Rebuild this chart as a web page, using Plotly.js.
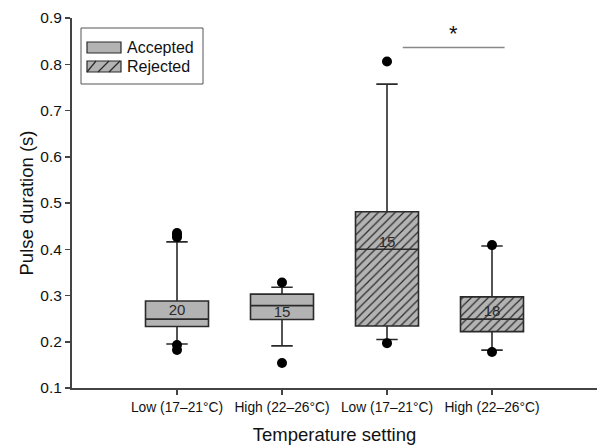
<!DOCTYPE html>
<html>
<head>
<meta charset="utf-8">
<script src="https://cdn.plot.ly/plotly-3.0.1.min.js"></script>
<style>html,body{margin:0;padding:0;background:#fff;}#chart{width:597px;height:448px;}</style>
</head>
<body>
<div id="chart"></div>
<script>
// ---- data ----
const categories = ["Low (17\u201321\u00b0C)", "High (22\u201326\u00b0C)", "Low (17\u201321\u00b0C)", "High (22\u201326\u00b0C)"];
const groups = ["Accepted", "Accepted", "Rejected", "Rejected"];
const q1 = [0.233, 0.248, 0.234, 0.222];
const median = [0.249, 0.278, 0.400, 0.249];
const q3 = [0.288, 0.303, 0.481, 0.297];
const lowerWhisker = [0.195, 0.191, 0.205, 0.182];
const upperWhisker = [0.416, 0.318, 0.757, 0.407];
const outlierX = [0, 0, 0, 0, 0, 1, 1, 2, 2, 3, 3];
const outlierY = [0.435, 0.430, 0.426, 0.193, 0.182, 0.328, 0.154, 0.806, 0.197, 0.409, 0.178];
const sampleSize = [20, 15, 15, 18];
const sampleLabelY = [0.266, 0.262, 0.414, 0.263];
const sigPair = [2, 3];
const sigY = 0.836;

// ---- styles ----
const GREY = "#b3b3b3";
const DARK = "#2a2a2a";
const AXIS = "#444444";
const FONT = "'Liberation Sans', Arial, sans-serif";

const xs = categories.map((_, i) => i);
function pick(arr, g) { return arr.filter((_, i) => groups[i] === g); }
function pickX(g) { return xs.filter((_, i) => groups[i] === g); }

const traces = [];
["Accepted", "Rejected"].forEach(g => {
  const bq1 = pick(q1, g), bq3 = pick(q3, g);
  traces.push({
    type: "bar", x: pickX(g), base: bq1, y: bq3.map((v, i) => v - bq1[i]),
    width: 0.6, showlegend: false, hoverinfo: "skip",
    marker: g === "Rejected"
      ? {color: GREY, line: {width: 0}, pattern: {shape: "/", size: 6, solidity: 0.2, fgcolor: DARK, bgcolor: GREY, fillmode: "replace"}}
      : {color: GREY, line: {width: 0}}
  });
});
["Accepted", "Rejected"].forEach(g => {
  traces.push({
    type: "box", x: pickX(g), q1: pick(q1, g), median: pick(median, g), q3: pick(q3, g),
    lowerfence: pick(lowerWhisker, g), upperfence: pick(upperWhisker, g),
    width: 0.6, whiskerwidth: 0.34, boxpoints: false, showlegend: false,
    fillcolor: "rgba(0,0,0,0)", line: {color: DARK, width: 1.6}
  });
});
traces.push({
  type: "scatter", mode: "markers", x: outlierX, y: outlierY, showlegend: false,
  marker: {color: "#000", size: 10}, cliponaxis: false
});
traces.push({
  type: "scatter", mode: "text", x: xs, y: sampleLabelY, text: sampleSize.map(String),
  textfont: {family: FONT, size: 15, color: DARK}, showlegend: false, hoverinfo: "skip"
});

// legend (drawn in pixel positions)
const W = 597, H = 448, ML = 72, MR = 0, MT = 18, MB = 60;
const px = x => (x - ML) / (W - ML - MR);
const py = y => (H - MB - y) / (H - MT - MB);
const shapes = [
  {type: "line", xref: "x", yref: "y", x0: sigPair[0] + 0.15, x1: sigPair[1] + 0.12, y0: sigY, y1: sigY, line: {color: "#888", width: 1.5}},
  {type: "rect", xref: "paper", yref: "paper", x0: px(81), x1: px(203), y0: py(84), y1: py(28), line: {color: "#555", width: 1}, fillcolor: "#fff"},
  {type: "rect", xref: "paper", yref: "paper", x0: px(87), x1: px(121), y0: py(53), y1: py(42), line: {color: DARK, width: 1.2}, fillcolor: GREY},
  {type: "rect", xref: "paper", yref: "paper", x0: px(87), x1: px(121), y0: py(72), y1: py(61), line: {color: DARK, width: 1.2}, fillcolor: GREY}
];
[[87, 96], [98, 109], [109, 120]].forEach(([a, b]) => {
  shapes.push({type: "line", xref: "paper", yref: "paper", x0: px(a), x1: px(b), y0: py(72), y1: py(61), line: {color: DARK, width: 1.2}});
});
const annotations = [
  {xref: "paper", yref: "paper", x: px(125), y: py(47.5), text: "Accepted", showarrow: false, xanchor: "left", yanchor: "middle", font: {family: FONT, size: 16, color: "#111"}},
  {xref: "paper", yref: "paper", x: px(125), y: py(66.5), text: "Rejected", showarrow: false, xanchor: "left", yanchor: "middle", font: {family: FONT, size: 16, color: "#111"}},
  {xref: "x", yref: "y", x: (sigPair[0] + sigPair[1]) / 2 + 0.13, y: sigY, text: "*", showarrow: false, yanchor: "bottom", font: {family: FONT, size: 22, color: "#111"}}
];

const layout = {
  width: W, height: H, margin: {l: ML, r: MR, t: MT, b: MB},
  paper_bgcolor: "#fff", plot_bgcolor: "#fff",
  showlegend: false, barmode: "overlay", boxmode: "overlay",
  font: {family: FONT, color: "#111"},
  xaxis: {
    range: [-1, 4], tickvals: xs, ticktext: categories, showgrid: false, zeroline: false,
    showline: true, linecolor: AXIS, linewidth: 2, ticks: "outside", ticklen: 5, tickwidth: 1.5, tickcolor: AXIS,
    tickfont: {family: FONT, size: 13.8, color: "#111"},
    title: {text: "Temperature setting", font: {family: FONT, size: 18.5, color: "#111"}, standoff: 14}
  },
  yaxis: {
    range: [0.1, 0.9], dtick: 0.1, tick0: 0.1, tickformat: ".1f", showgrid: false, zeroline: false,
    showline: true, linecolor: AXIS, linewidth: 2, ticks: "outside", ticklen: 5, tickwidth: 1.5, tickcolor: AXIS,
    tickfont: {family: FONT, size: 15.5, color: "#111"},
    title: {text: "Pulse duration (s)", font: {family: FONT, size: 18.5, color: "#111"}, standoff: 2}
  },
  shapes: shapes, annotations: annotations
};

Plotly.newPlot("chart", traces, layout, {displayModeBar: false, staticPlot: true});
</script>
</body>
</html>
